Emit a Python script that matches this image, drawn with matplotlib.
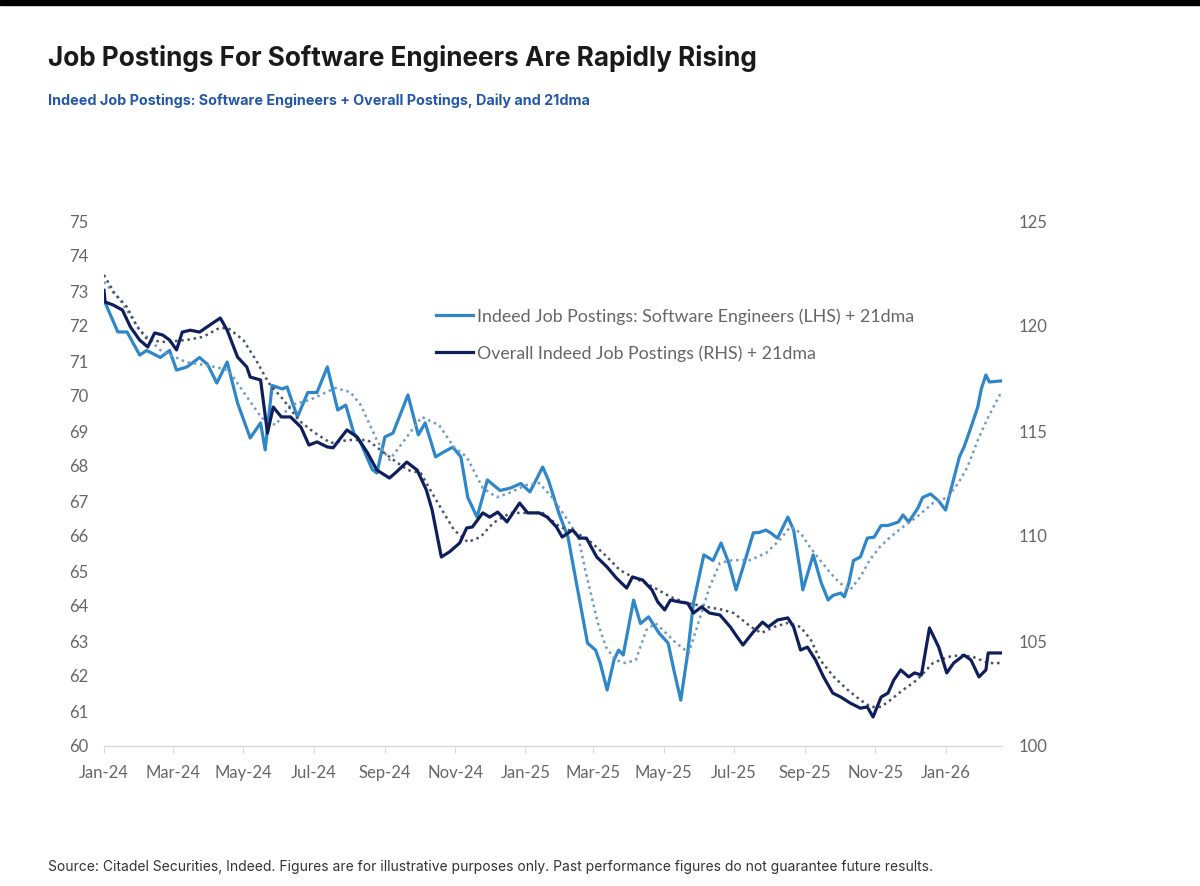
import pandas as pd
import matplotlib.pyplot as plt
import matplotlib.dates as mdates

# Indeed job postings, software engineers (LHS), daily
sw_dates = ["2024-01-01", "2024-01-13", "2024-01-21", "2024-02-01", "2024-02-07", "2024-02-19",
            "2024-02-27", "2024-03-04", "2024-03-13", "2024-03-24", "2024-03-31", "2024-04-08",
            "2024-04-17", "2024-04-26", "2024-05-07", "2024-05-16", "2024-05-20", "2024-05-26",
            "2024-06-04", "2024-06-08", "2024-06-17", "2024-06-26", "2024-07-04", "2024-07-13",
            "2024-07-22", "2024-07-29", "2024-08-05", "2024-08-11", "2024-08-21", "2024-08-25",
            "2024-09-01", "2024-09-08", "2024-09-21", "2024-09-30", "2024-10-06", "2024-10-15",
            "2024-10-22", "2024-10-30", "2024-11-06", "2024-11-12", "2024-11-20", "2024-11-29",
            "2024-12-10", "2024-12-19", "2024-12-28", "2025-01-05", "2025-01-16", "2025-01-21",
            "2025-01-30", "2025-02-07", "2025-02-15", "2025-02-24", "2025-03-03", "2025-03-07",
            "2025-03-13", "2025-03-19", "2025-03-23", "2025-03-27", "2025-04-05", "2025-04-11",
            "2025-04-18", "2025-04-27", "2025-05-05", "2025-05-10", "2025-05-16", "2025-05-22",
            "2025-05-27", "2025-06-05", "2025-06-13", "2025-06-20", "2025-06-27", "2025-07-03",
            "2025-07-09", "2025-07-18", "2025-07-23", "2025-07-29", "2025-08-02", "2025-08-08",
            "2025-08-17", "2025-08-22", "2025-08-28", "2025-08-30", "2025-09-08", "2025-09-15",
            "2025-09-21", "2025-09-25", "2025-10-02", "2025-10-05", "2025-10-09", "2025-10-13",
            "2025-10-19", "2025-10-25", "2025-10-31", "2025-11-06", "2025-11-12", "2025-11-21",
            "2025-11-25", "2025-11-30", "2025-12-08", "2025-12-12", "2025-12-19", "2025-12-26",
            "2026-01-01", "2026-01-07", "2026-01-13", "2026-01-17", "2026-01-23", "2026-01-29",
            "2026-02-01", "2026-02-05", "2026-02-08", "2026-02-18"]
sw_values = [72.74, 71.83, 71.83, 71.17, 71.30, 71.10,
             71.30, 70.74, 70.83, 71.10, 70.90, 70.37,
             70.97, 69.80, 68.80, 69.23, 68.46, 70.30,
             70.20, 70.26, 69.40, 70.10, 70.10, 70.83,
             69.60, 69.74, 68.94, 68.66, 67.90, 67.80,
             68.83, 68.94, 70.03, 68.89, 69.23, 68.26,
             68.40, 68.54, 68.26, 67.10, 66.54, 67.60,
             67.30, 67.37, 67.50, 67.26, 67.97, 67.60,
             66.66, 65.97, 64.54, 62.94, 62.74, 62.37,
             61.60, 62.46, 62.74, 62.60, 64.17, 63.50,
             63.69, 63.23, 62.94, 62.17, 61.31, 62.66,
             64.09, 65.46, 65.30, 65.80, 65.20, 64.46,
             65.10, 66.09, 66.10, 66.17, 66.09, 65.94,
             66.54, 66.17, 64.94, 64.46, 65.46, 64.66,
             64.17, 64.30, 64.37, 64.26, 64.66, 65.30,
             65.40, 65.94, 65.97, 66.30, 66.30, 66.40,
             66.60, 66.40, 66.80, 67.10, 67.20, 67.00,
             66.74, 67.50, 68.26, 68.54, 69.10, 69.69,
             70.20, 70.60, 70.40, 70.43]

# software engineers, 21dma
sw_ma_dates = ["2024-01-01", "2024-01-15", "2024-02-01", "2024-02-19", "2024-03-12", "2024-04-02",
               "2024-04-18", "2024-05-03", "2024-05-17", "2024-05-29", "2024-06-11", "2024-06-28",
               "2024-07-20", "2024-08-02", "2024-08-11", "2024-08-25", "2024-09-05", "2024-09-18",
               "2024-10-03", "2024-10-18", "2024-10-31", "2024-11-11", "2024-11-25", "2024-12-07",
               "2024-12-18", "2025-01-02", "2025-01-13", "2025-01-24", "2025-02-05", "2025-02-16",
               "2025-02-22", "2025-03-05", "2025-03-12", "2025-03-20", "2025-03-29", "2025-04-07",
               "2025-04-16", "2025-04-24", "2025-05-03", "2025-05-12", "2025-05-23", "2025-06-01",
               "2025-06-10", "2025-06-19", "2025-06-30", "2025-07-15", "2025-07-29", "2025-08-10",
               "2025-08-19", "2025-08-28", "2025-09-05", "2025-09-14", "2025-09-23", "2025-10-01",
               "2025-10-10", "2025-10-19", "2025-10-27", "2025-11-05", "2025-11-14", "2025-11-25",
               "2025-12-07", "2025-12-21", "2026-01-03", "2026-01-12", "2026-01-20", "2026-01-29",
               "2026-02-07", "2026-02-18"]
sw_ma_values = [73.26, 72.74, 71.89, 71.31, 70.97, 70.86,
                70.74, 70.03, 69.37, 69.17, 69.74, 69.89,
                70.23, 70.11, 69.74, 68.74, 68.17, 68.74,
                69.40, 69.17, 68.54, 68.26, 67.37, 67.11,
                67.23, 67.46, 67.51, 67.11, 66.54, 65.97,
                65.03, 63.51, 62.83, 62.46, 62.37, 62.46,
                63.31, 63.51, 63.23, 62.94, 62.66, 63.60,
                64.54, 65.23, 65.31, 65.31, 65.51, 65.89,
                66.26, 66.09, 65.69, 65.31, 64.94, 64.66,
                64.46, 64.83, 65.31, 65.69, 65.97, 66.26,
                66.54, 66.94, 67.11, 67.51, 67.97, 68.74,
                69.40, 70.09]

# overall Indeed job postings (RHS), daily
all_dates = ["2024-01-01", "2024-01-02", "2024-01-09", "2024-01-17", "2024-01-24", "2024-02-01",
             "2024-02-08", "2024-02-14", "2024-02-21", "2024-02-27", "2024-03-04", "2024-03-09",
             "2024-03-16", "2024-03-24", "2024-04-02", "2024-04-11", "2024-04-17", "2024-04-26",
             "2024-05-04", "2024-05-07", "2024-05-16", "2024-05-22", "2024-05-27", "2024-06-03",
             "2024-06-11", "2024-06-20", "2024-06-27", "2024-07-04", "2024-07-13", "2024-07-18",
             "2024-07-30", "2024-08-08", "2024-08-17", "2024-08-25", "2024-09-05", "2024-09-11",
             "2024-09-20", "2024-09-29", "2024-10-07", "2024-10-12", "2024-10-20", "2024-10-27",
             "2024-11-05", "2024-11-11", "2024-11-16", "2024-11-25", "2024-12-01", "2024-12-08",
             "2024-12-16", "2024-12-27", "2025-01-03", "2025-01-13", "2025-01-20", "2025-01-28",
             "2025-02-02", "2025-02-11", "2025-02-17", "2025-02-23", "2025-03-04", "2025-03-13",
             "2025-03-21", "2025-03-30", "2025-04-04", "2025-04-13", "2025-04-21", "2025-04-26",
             "2025-05-02", "2025-05-07", "2025-05-15", "2025-05-22", "2025-05-27", "2025-06-03",
             "2025-06-10", "2025-06-19", "2025-06-28", "2025-07-04", "2025-07-09", "2025-07-18",
             "2025-07-26", "2025-07-31", "2025-08-08", "2025-08-17", "2025-08-22", "2025-08-28",
             "2025-09-03", "2025-09-10", "2025-09-17", "2025-09-25", "2025-10-02", "2025-10-10",
             "2025-10-19", "2025-10-25", "2025-10-30", "2025-11-06", "2025-11-12", "2025-11-17",
             "2025-11-23", "2025-11-30", "2025-12-05", "2025-12-11", "2025-12-18", "2025-12-26",
             "2026-01-02", "2026-01-08", "2026-01-17", "2026-01-23", "2026-01-30", "2026-02-05",
             "2026-02-07", "2026-02-18"]
all_values = [121.70, 121.14, 121.00, 120.76, 119.95, 119.33,
              119.00, 119.67, 119.57, 119.33, 118.86, 119.71,
              119.80, 119.71, 120.05, 120.38, 119.80, 118.52,
              118.05, 117.57, 117.43, 114.90, 116.14, 115.67,
              115.67, 115.19, 114.33, 114.48, 114.24, 114.20,
              115.05, 114.71, 113.95, 113.14, 112.76, 113.05,
              113.52, 113.14, 112.19, 111.24, 109.00, 109.24,
              109.67, 110.38, 110.43, 111.10, 110.90, 111.14,
              110.67, 111.57, 111.10, 111.10, 110.90, 110.43,
              109.95, 110.29, 109.90, 109.90, 109.00, 108.52,
              108.00, 107.52, 108.05, 107.90, 107.43, 106.86,
              106.48, 106.95, 106.86, 106.80, 106.33, 106.62,
              106.33, 106.24, 105.67, 105.19, 104.81, 105.43,
              105.90, 105.67, 106.00, 106.10, 105.67, 104.57,
              104.71, 104.10, 103.29, 102.52, 102.33, 102.05,
              101.80, 101.86, 101.38, 102.33, 102.52, 103.14,
              103.62, 103.29, 103.48, 103.38, 105.62, 104.71,
              103.48, 103.95, 104.33, 104.10, 103.29, 103.62,
              104.43, 104.43]

# overall postings, 21dma
all_ma_dates = ["2024-01-01", "2024-01-10", "2024-01-21", "2024-01-30", "2024-02-08", "2024-02-23",
                "2024-03-12", "2024-03-27", "2024-04-10", "2024-04-18", "2024-05-01", "2024-05-12",
                "2024-05-23", "2024-06-05", "2024-06-18", "2024-07-01", "2024-07-16", "2024-07-31",
                "2024-08-17", "2024-08-28", "2024-09-12", "2024-09-21", "2024-10-02", "2024-10-17",
                "2024-10-31", "2024-11-12", "2024-11-23", "2024-12-04", "2024-12-19", "2025-01-02",
                "2025-01-16", "2025-01-31", "2025-02-15", "2025-02-28", "2025-03-13", "2025-03-24",
                "2025-04-04", "2025-04-22", "2025-05-07", "2025-05-21", "2025-06-08", "2025-06-22",
                "2025-07-01", "2025-07-16", "2025-07-25", "2025-08-05", "2025-08-17", "2025-08-28",
                "2025-09-06", "2025-09-14", "2025-09-26", "2025-10-08", "2025-10-19", "2025-10-28",
                "2025-11-06", "2025-11-14", "2025-11-25", "2025-12-07", "2025-12-21", "2026-01-03",
                "2026-01-14", "2026-01-25", "2026-02-07", "2026-02-18"]
all_ma_values = [122.43, 121.57, 120.90, 119.95, 119.33, 119.24,
                 119.33, 119.48, 119.90, 119.90, 119.33, 118.38,
                 117.29, 116.48, 115.52, 114.95, 114.43, 114.57,
                 114.57, 114.10, 113.48, 113.14, 113.00, 111.57,
                 110.29, 109.71, 109.95, 110.62, 111.10, 111.10,
                 111.10, 110.43, 110.14, 109.67, 109.00, 108.38,
                 108.05, 107.57, 107.10, 106.81, 106.62, 106.48,
                 106.33, 105.67, 105.38, 105.67, 105.86, 105.67,
                 105.05, 104.10, 103.29, 102.67, 102.19, 101.86,
                 101.86, 102.19, 102.67, 103.14, 103.95, 104.24,
                 104.33, 104.24, 103.95, 103.95]

left_ticks = list(range(60, 76))
right_ticks = [100, 105, 110, 115, 120, 125]

light_blue = "#2f86c9"
navy = "#0e1f5b"
grey_txt = "#666666"

plt.rcParams["font.family"] = ["Lato", "DejaVu Sans"]

fig = plt.figure(figsize=(12, 8.86), dpi=100)
ax = fig.add_axes([104 / 1200, 1 - 746 / 886, (1002 - 104) / 1200, (746 - 221) / 886])
ax2 = ax.twinx()

l1, = ax.plot(pd.to_datetime(sw_dates), sw_values, color=light_blue, lw=2.3, solid_joinstyle="round")
ax.plot(pd.to_datetime(sw_ma_dates), sw_ma_values, color="#6f9cc6", lw=1.8, ls=(0, (1, 1.5)))
ax2.plot(pd.to_datetime(all_ma_dates), all_ma_values, color="#4a5266", lw=1.8, ls=(0, (1, 1.5)))
l2, = ax2.plot(pd.to_datetime(all_dates), all_values, color=navy, lw=2.3, solid_joinstyle="round")

ax.set_xlim(pd.Timestamp("2024-01-01"), pd.Timestamp("2026-02-19"))
ax.set_ylim(60, 75)
ax2.set_ylim(100, 125)
ax.set_yticks(left_ticks)
ax2.set_yticks(right_ticks)

ax.xaxis.set_major_locator(mdates.MonthLocator(bymonth=[1, 3, 5, 7, 9, 11]))
ax.xaxis.set_major_formatter(mdates.DateFormatter("%b-%y"))

for a in (ax, ax2):
    for s in a.spines.values():
        s.set_visible(False)
ax.spines["bottom"].set_visible(True)
ax.spines["bottom"].set_color("#d9d9d9")
ax.spines["bottom"].set_linewidth(1)

ax.tick_params(axis="x", direction="out", length=5, color="#d9d9d9", labelsize=12,
               labelcolor=grey_txt, pad=9)
ax.tick_params(axis="y", length=0, labelsize=12, labelcolor=grey_txt, pad=11)
ax2.tick_params(axis="y", length=0, labelsize=12, labelcolor=grey_txt, pad=12)

fig.legend([l1, l2], ["Indeed Job Postings: Software Engineers (LHS) + 21dma",
                      "Overall Indeed Job Postings (RHS) + 21dma"],
           loc="upper left", bbox_to_anchor=(420 / 1200, 1 - 292 / 886), frameon=False,
           fontsize=12.8, handlelength=2.1, handletextpad=0.2, labelspacing=1.15,
           labelcolor=grey_txt)

# black strip along the top edge
fig.patches.append(plt.Rectangle((0, 1 - 5 / 886), 1, 5 / 886, transform=fig.transFigure,
                                 color="black", zorder=10))

fig.text(48 / 1200, 1 - 59 / 886, "Job Postings For Software Engineers Are Rapidly Rising",
         family=["Inter", "DejaVu Sans"], fontsize=18.8, fontweight="bold", color="#1a1a1a",
         va="center")
fig.text(48 / 1200, 1 - 101 / 886,
         "Indeed Job Postings: Software Engineers + Overall Postings, Daily and 21dma",
         family=["Inter", "DejaVu Sans"], fontsize=10.3, fontweight="bold", color="#2457a6",
         va="center")
fig.text(48 / 1200, 1 - 867 / 886,
         "Source: Citadel Securities, Indeed. Figures are for illustrative purposes only. "
         "Past performance figures do not guarantee future results.",
         family=["Inter", "DejaVu Sans"], fontsize=10, color="#333333", va="center")

fig.savefig("out.png", dpi=100)
